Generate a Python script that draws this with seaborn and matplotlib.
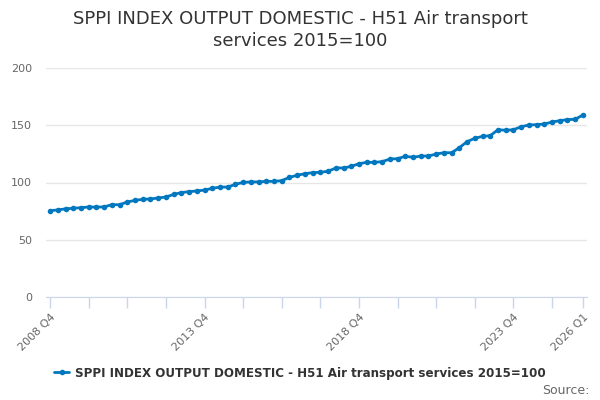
import pandas as pd
import matplotlib.pyplot as plt
import seaborn as sns

# quarterly index values, 2008 Q4 .. 2026 Q1
values = [75.4, 76.0, 77.0, 77.5, 78.0, 78.6, 78.5, 78.7, 80.6, 80.6,
          83.0, 84.4, 85.3, 85.6, 86.5, 87.3, 89.6, 91.2, 92.0, 92.6,
          93.4, 94.9, 96.0, 96.0, 98.4, 100.1, 100.5, 100.5, 101.0, 101.0,
          101.6, 104.5, 106.3, 107.7, 108.6, 108.9, 109.8, 112.7, 112.7, 114.1,
          116.4, 117.6, 117.6, 118.2, 120.5, 120.8, 122.9, 122.0, 123.1, 123.1,
          124.9, 126.0, 126.0, 130.4, 135.7, 138.6, 140.3, 140.9, 146.1, 145.6,
          146.1, 148.7, 150.2, 150.5, 151.1, 152.8, 154.0, 154.9, 155.2, 159.0]

quarters = []
y, q = 2008, 4
for _ in values:
    quarters.append(f"{y} Q{q}")
    q += 1
    if q > 4:
        q, y = 1, y + 1

tick_labels = ["2008 Q4", "2013 Q4", "2018 Q4", "2023 Q4", "2026 Q1"]
series_name = "SPPI INDEX OUTPUT DOMESTIC - H51 Air transport services 2015=100"

df = pd.DataFrame({"idx": range(len(values)), "quarter": quarters,
                   "value": values, "series": series_name})

sns.set_style("white")
plt.rcParams['font.family'] = ['DejaVu Sans']

fig = plt.figure(figsize=(6, 4), dpi=100)
ax = fig.add_axes([0.077, 0.2575, 0.901, 0.5725])

sns.lineplot(data=df, x="idx", y="value", hue="series", palette=["#0077be"],
             marker="o", markersize=4, markeredgewidth=0, linewidth=2, ax=ax)

ax.set_xlim(-0.5, 69.5)
ax.set_ylim(0, 200)
ax.set_yticks([0, 50, 100, 150, 200])
ax.yaxis.grid(True, color="#e6e6e6", linewidth=1)
ax.set_axisbelow(True)

major = [quarters.index(t) for t in tick_labels]
ax.set_xticks(major)
ax.set_xticklabels(tick_labels, rotation=45, ha="right", rotation_mode="anchor")
ax.set_xticks([i for i in range(0, len(values), 5) if i not in major], minor=True)
ax.tick_params(axis="x", which="both", bottom=True, length=8, color="#ccd6eb", width=1,
               labelsize=8, labelcolor="#666666", pad=3)
ax.tick_params(axis="y", length=0, labelsize=8, labelcolor="#666666", pad=10)
ax.set_xlabel("")
ax.set_ylabel("")

for s in ["top", "right", "left"]:
    ax.spines[s].set_visible(False)
ax.spines["bottom"].set_color("#ccd6eb")

fig.suptitle("SPPI INDEX OUTPUT DOMESTIC - H51 Air transport\nservices 2015=100",
             y=0.975, fontsize=13, color="#333333", linespacing=1.25)

leg = ax.legend(loc="center", bbox_to_anchor=(0.5, 0.0675), bbox_transform=fig.transFigure,
                frameon=False, handlelength=1.2, handletextpad=0.5,
                prop={"size": 8.6, "weight": "bold"})
for t in leg.get_texts():
    t.set_color("#333333")

fig.text(0.983, 0.025, "Source:", ha="right", va="center", fontsize=9, color="#666666")

fig.savefig("out.png", dpi=100)
plt.close()
